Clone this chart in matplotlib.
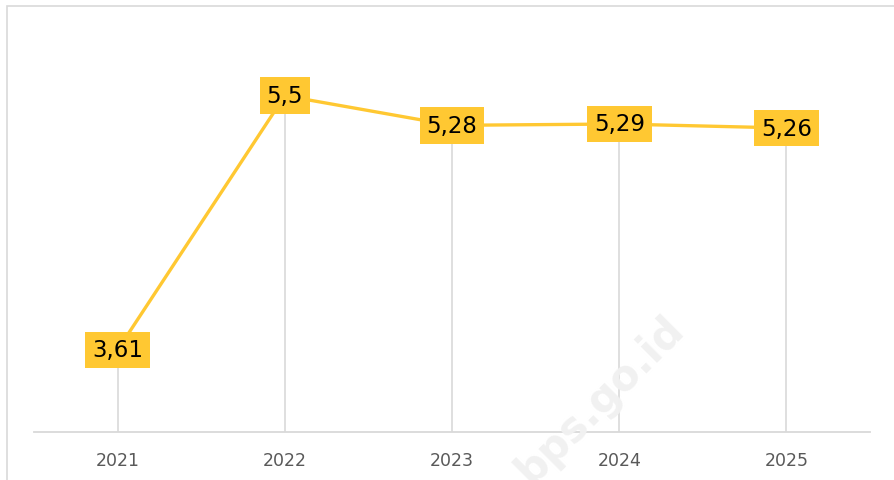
import matplotlib.pyplot as plt
from matplotlib.patches import Rectangle

years = ["2021", "2022", "2023", "2024", "2025"]
values = [3.61, 5.5, 5.28, 5.29, 5.26]
labels = ["3,61", "5,5", "5,28", "5,29", "5,26"]

yellow = "#FFC832"
grey = "#D9D9D9"

fig = plt.figure(figsize=(8.94, 4.81), dpi=100)
ax = fig.add_axes([34/894, 1-433/481, (870-34)/894, (433-29.5)/481])

x = list(range(len(years)))

# drop lines from axis to each point
ax.vlines(x, 3.0, values, color=grey, lw=1.2, zorder=1)
ax.plot(x, values, color=yellow, lw=2.4, zorder=2, solid_capstyle="round")

for xi, v, lab in zip(x, values, labels):
    ax.text(xi, v, lab, ha="center", va="center", fontsize=16.5, color="black",
            zorder=4,
            bbox=dict(boxstyle="square,pad=0.3", fc=yellow, ec="none"))

ax.set_xlim(-0.5, 4.5)
ax.set_ylim(3.0, 6.0)
ax.set_xticks(x)
ax.set_xticklabels(years, fontsize=12.5, color="#595959")
ax.tick_params(axis="x", length=0, pad=14)
ax.set_yticks([])
for s in ["top", "right", "left"]:
    ax.spines[s].set_visible(False)
ax.spines["bottom"].set_color(grey)
ax.spines["bottom"].set_linewidth(1.3)

# watermark
fig.text(600/894, 1-400/481, "bps.go.id", rotation=45, fontsize=30,
         fontweight="bold", color="#F1F1F1", ha="center", va="center", zorder=0)

# frame around the chart area
fig.patches.append(Rectangle((6.5/894, -0.1), 1.2, 1 - 6.5/481 + 0.1,
                             transform=fig.transFigure, fill=False,
                             ec=grey, lw=1.2, zorder=0))

fig.savefig("out.png", dpi=100)
